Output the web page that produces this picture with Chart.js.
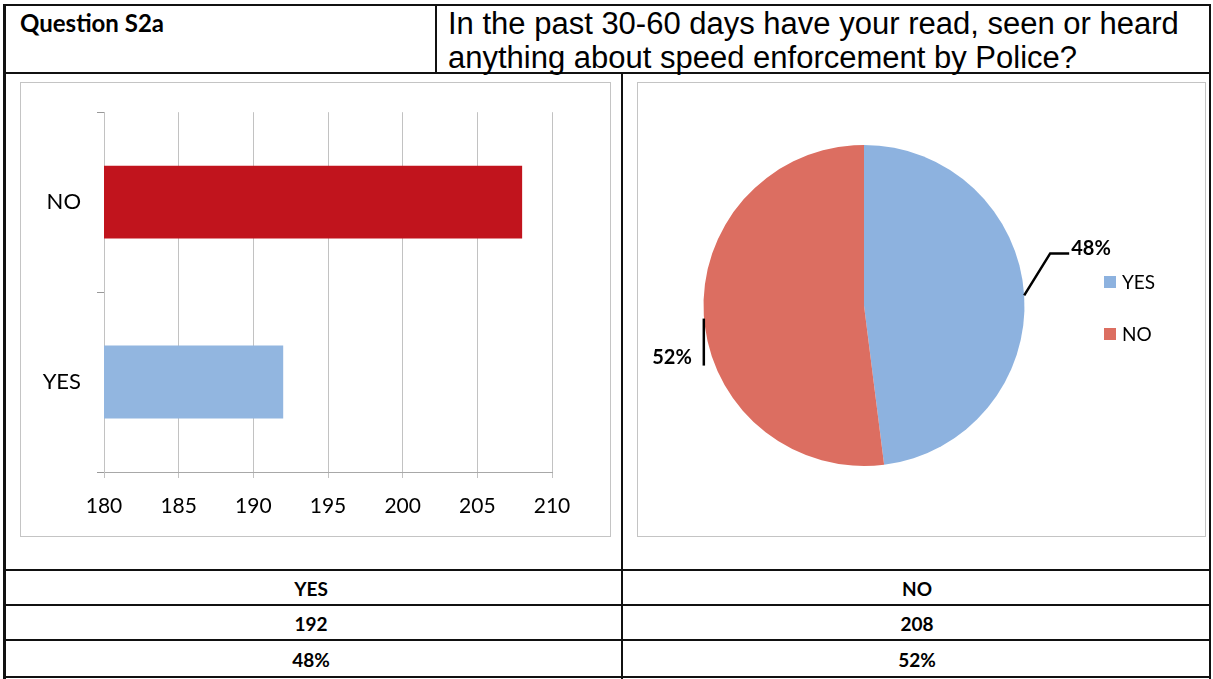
<!DOCTYPE html>
<html>
<head>
<meta charset="utf-8">
<script src="https://cdn.jsdelivr.net/npm/chart.js@4.4.0/dist/chart.umd.min.js"></script>
<style>
  body { margin: 0; background: #fff; width: 1213px; height: 679px; overflow: hidden; position: relative; font-family: Lato, 'Open Sans', sans-serif; }
  .ln { position: absolute; background: #111; }
  .txt { position: absolute; color: #000; white-space: nowrap; }
  .frame { position: absolute; border: 1px solid #c4c4c4; box-sizing: border-box; }
  .cell { position: absolute; font-weight: bold; font-size: 19px; text-align: center; transform: translate(-50%, -50%); }
  .lg { position: absolute; font-size: 19px; display: flex; align-items: center; }
  .lg i { display: inline-block; width: 12px; height: 12px; margin-right: 6px; }
</style>
</head>
<body>
<!-- cadre du tableau -->
<div class="ln" style="left:4px;top:4px;width:1207px;height:2px"></div>
<div class="ln" style="left:4px;top:72px;width:1207px;height:2px"></div>
<div class="ln" style="left:435px;top:4px;width:2px;height:69px"></div>
<div class="ln" style="left:3px;top:4px;width:3px;height:675px"></div>
<div class="ln" style="left:1209px;top:4px;width:2px;height:675px"></div>
<div class="ln" style="left:621px;top:73px;width:2px;height:606px"></div>
<div class="ln" style="left:4px;top:569px;width:1207px;height:2px"></div>
<div class="ln" style="left:4px;top:604px;width:1207px;height:2px"></div>
<div class="ln" style="left:4px;top:639px;width:1207px;height:2px"></div>
<div class="ln" style="left:4px;top:676px;width:1207px;height:2px"></div>

<div class="txt" style="left:20px;top:8px;font-weight:bold;font-size:24px;line-height:30px">Question S2a</div>
<div class="txt" style="left:448px;top:7px;font-family:'Liberation Sans',Arial,sans-serif;font-size:31px;line-height:34px">In the past 30-60 days have your read, seen or heard<br>anything about speed enforcement by Police?</div>

<div class="frame" style="left:20px;top:82px;width:591px;height:455px"></div>
<div class="frame" style="left:637px;top:82px;width:569px;height:455px"></div>

<div style="position:absolute;left:21px;top:83px;width:588px;height:452px"><canvas id="chart-barras"></canvas></div>
<div style="position:absolute;left:638px;top:83px;width:567px;height:452px"><canvas id="chart-pie"></canvas></div>
<div id="leyenda"></div>
<div id="tabla"></div>

<script>
// Datos
const categorias = ['YES', 'NO'];
const valores = [192, 208];
const porcentajes = [48, 52];
const ticksX = [180, 185, 190, 195, 200, 205, 210];

const COLORS = {
    barYes: '#92b6e0',
    barNo:  '#c1141d',
    pieYes: '#8db2df',
    pieNo:  '#dc6e61',
    grid:   '#c2c2c2',
    text:   '#000',
};

// Tabla inferior
const tabla = document.getElementById('tabla');
const colX = [311, 917];
const filas = [categorias, valores, porcentajes.map(p => p + '%')];
const filaY = [588, 623, 659];
filas.forEach((fila, r) => {
    fila.forEach((v, c) => {
        const d = document.createElement('div');
        d.className = 'cell';
        d.style.left = colX[c] + 'px';
        d.style.top = filaY[r] + 'px';
        d.textContent = v;
        tabla.appendChild(d);
    });
});

// Leyenda del pie
const leyenda = document.getElementById('leyenda');
[COLORS.pieYes, COLORS.pieNo].forEach((col, i) => {
    const d = document.createElement('div');
    d.className = 'lg';
    d.style.left = '1104px';
    d.style.top = (270 + i * 52) + 'px';
    d.innerHTML = '<i style="background:' + col + '"></i>' + categorias[i];
    leyenda.appendChild(d);
});

// 1. Barras horizontales
new Chart(document.getElementById('chart-barras'), {
    type: 'bar',
    data: {
        labels: categorias,
        datasets: [{
            data: valores,
            backgroundColor: [COLORS.barYes, COLORS.barNo],
            borderWidth: 0,
            barPercentage: 0.405,
            categoryPercentage: 1,
        }]
    },
    options: {
        indexAxis: 'y',
        responsive: true,
        maintainAspectRatio: false,
        animation: false,
        layout: { padding: { top: 28, right: 57, left: 0, bottom: 0 } },
        plugins: { legend: { display: false }, tooltip: { enabled: false } },
        scales: {
            x: {
                min: ticksX[0],
                max: ticksX[ticksX.length - 1],
                afterBuildTicks: s => { s.ticks = ticksX.map(v => ({ value: v })); },
                afterFit: s => { s.height = 63; },
                ticks: { color: COLORS.text, font: { family: 'Lato', size: 21 }, padding: 16, maxRotation: 0 },
                grid: { color: COLORS.grid, tickLength: 6 },
                border: { color: '#a8a8a8' }
            },
            y: {
                reverse: true,
                afterFit: s => { s.width = 83; },
                ticks: { color: COLORS.text, font: { family: 'Lato', size: 22 }, padding: 16 },
                grid: { drawOnChartArea: false, offset: true, color: '#999', tickLength: 7 },
                border: { color: COLORS.grid }
            }
        }
    }
});

// Etiquetas de porcentaje con líneas guía
const etiquetasPie = {
    id: 'etiquetasPie',
    afterDatasetsDraw(chart) {
        const { ctx } = chart;
        const meta = chart.getDatasetMeta(0);
        ctx.save();
        ctx.strokeStyle = '#000';
        ctx.lineWidth = 2.5;
        ctx.fillStyle = '#000';
        ctx.font = 'bold 20px Lato';
        meta.data.forEach((arc, i) => {
            const mid = (arc.startAngle + arc.endAngle) / 2;
            const ex = arc.x + Math.cos(mid) * arc.outerRadius;
            const ey = arc.y + Math.sin(mid) * arc.outerRadius;
            const txt = porcentajes[i] + '%';
            ctx.beginPath();
            if (Math.cos(mid) > 0) {
                ctx.moveTo(ex, ey);
                ctx.lineTo(ex + 26, ey - 42);
                ctx.lineTo(ex + 45, ey - 42);
                ctx.stroke();
                ctx.textAlign = 'left';
                ctx.textBaseline = 'middle';
                ctx.fillText(txt, ex + 47, ey - 47);
            } else {
                ctx.moveTo(ex, ey + 3);
                ctx.lineTo(ex, ey + 50);
                ctx.stroke();
                ctx.textAlign = 'right';
                ctx.textBaseline = 'middle';
                ctx.fillText(txt, ex - 12, ey + 42);
            }
        });
        ctx.restore();
    }
};

// 2. Pie
new Chart(document.getElementById('chart-pie'), {
    type: 'pie',
    data: {
        labels: categorias,
        datasets: [{
            data: valores,
            backgroundColor: [COLORS.pieYes, COLORS.pieNo],
            borderWidth: 0,
        }]
    },
    options: {
        responsive: true,
        maintainAspectRatio: false,
        animation: false,
        layout: { padding: { left: 65, right: 180, top: 62, bottom: 69 } },
        plugins: { legend: { display: false }, tooltip: { enabled: false } }
    },
    plugins: [etiquetasPie]
});
</script>
</body>
</html>
